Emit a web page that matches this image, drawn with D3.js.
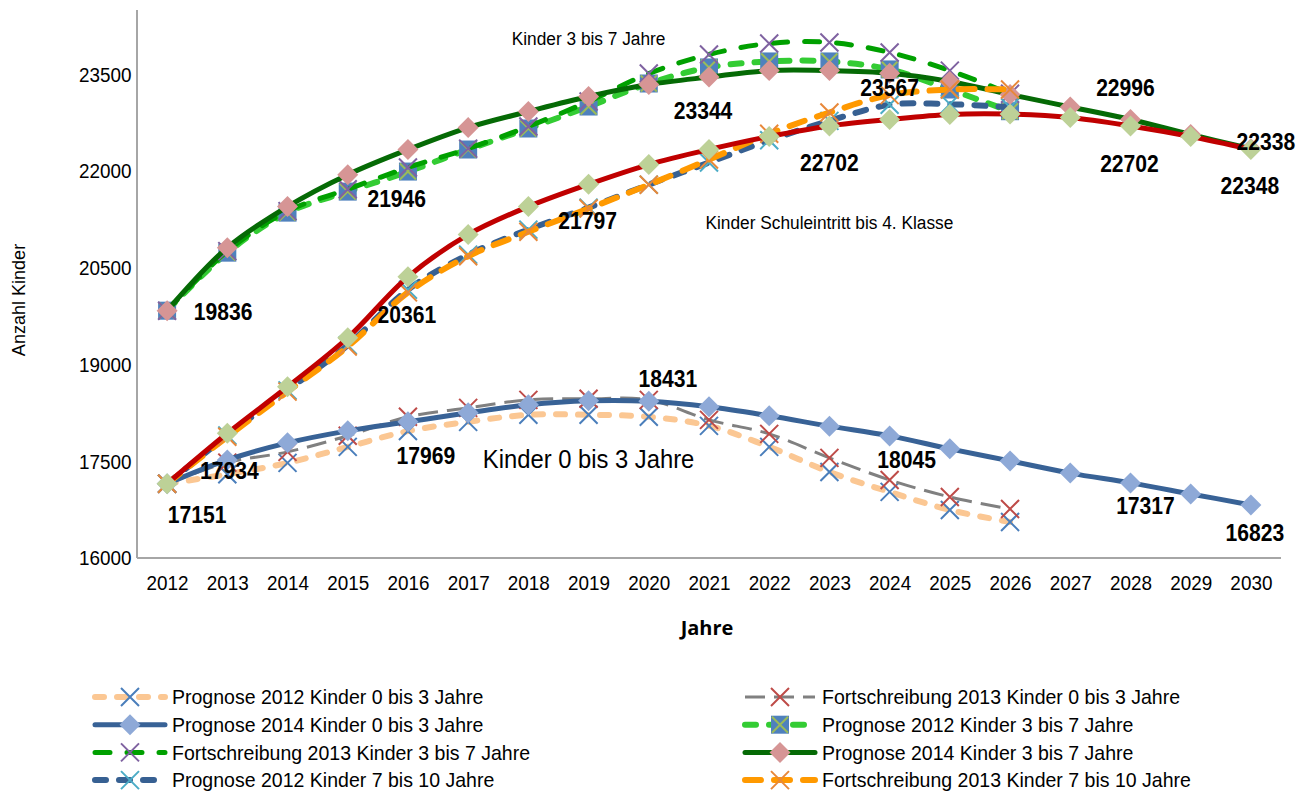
<!DOCTYPE html>
<html>
<head>
<meta charset="utf-8">
<script src="https://cdn.jsdelivr.net/npm/d3@7"></script>
<style>
  body { margin: 0; background: #fff; }
  text { font-family: "Liberation Sans", Arial, sans-serif; }
</style>
</head>
<body>
<div id="root"></div>
<script>
// categories and ticks
const years = [2012, 2013, 2014, 2015, 2016, 2017, 2018, 2019, 2020, 2021, 2022, 2023, 2024, 2025, 2026, 2027, 2028, 2029, 2030];
const yTicks = [16000, 17500, 19000, 20500, 22000, 23500];

// Kinder 0 bis 3 Jahre
const prognose2012_0_3 = [17151, 17300, 17475, 17724, 17969, 18112, 18221, 18221, 18190, 18050, 17724, 17335, 17025, 16745, 16559];
const fortschreibung2013_0_3 = [17151, 17480, 17646, 17895, 18190, 18329, 18453, 18470, 18453, 18143, 17925, 17553, 17211, 16947, 16761];
const prognose2014_0_3 = [17151, 17522, 17786, 17972, 18112, 18252, 18376, 18438, 18431, 18345, 18205, 18045, 17894, 17693, 17506, 17317, 17165, 16994, 16823];

// Kinder 3 bis 7 Jahre
const prognose2012_3_7 = [19836, 20736, 21357, 21683, 21994, 22336, 22662, 23003, 23360, 23609, 23702, 23702, 23578, 23267, 22930];
const fortschreibung2013_3_7 = [19836, 20760, 21380, 21720, 22056, 22350, 22693, 23081, 23515, 23811, 23980, 23997, 23842, 23560, 23200];
const prognose2014_3_7 = [19836, 20814, 21451, 21946, 22336, 22677, 22926, 23159, 23344, 23460, 23560, 23560, 23520, 23392, 23190, 22996, 22802, 22569, 22348];

// Kinder 7 bis 10 Jahre (Schuleintritt bis 4. Klasse)
const prognose2012_7_10 = [17151, 17900, 18600, 19300, 20162, 20705, 21094, 21435, 21792, 22134, 22480, 22780, 23030, 23040, 22990];
const fortschreibung2013_7_10 = [17151, 17880, 18580, 19280, 20120, 20680, 21060, 21420, 21790, 22180, 22580, 22910, 23180, 23267, 23267];
const prognose2014_7_10 = [17151, 17934, 18655, 19416, 20361, 21016, 21451, 21797, 22103, 22336, 22538, 22702, 22802, 22879, 22885, 22833, 22702, 22538, 22338];

// data labels: value shown, year it sits at
const labelValues = [19836, 17934, 17151, 20361, 21946, 21797, 17969, 18431, 23344, 22702, 23567, 18045, 22996, 22702, 22338, 22348, 17317, 16823];
const labelYears  = [2012, 2013, 2012, 2016, 2015, 2019, 2016, 2020, 2021, 2023, 2024, 2024, 2028, 2028, 2030, 2030, 2028, 2030];
const labelShift  = [[56,1],[2,38],[30,31],[-1,38],[49,24],[-1,37],[18,25],[19,-22],[-6,27],[0,37],[0,18],[17,34],[-5,-19],[-1,38],[15,-7],[-1,37],[15,33],[4,28]];

const width = 1313, height = 793;
const plot = { left: 137, right: 1281, top: 10, bottom: 558 };

const svg = d3.select("#root").append("svg")
    .attr("width", width)
    .attr("height", height);

const x = d3.scalePoint()
    .domain(years)
    .range([plot.left, plot.right])
    .padding(0.5);

const y = d3.scaleLinear()
    .domain([16000, 24500])
    .range([plot.bottom, plot.top]);

const series = [
    { name: "Prognose 2012 Kinder 0 bis 3 Jahre", values: prognose2012_0_3, color: "#fbc793", w: 6, dash: "9,13", cap: "round", marker: "x", mColor: "#4a7ebb" },
    { name: "Fortschreibung 2013 Kinder 0 bis 3 Jahre", values: fortschreibung2013_0_3, color: "#808080", w: 3, dash: "20,9", cap: "butt", marker: "x", mColor: "#be4b48" },
    { name: "Prognose 2014 Kinder 0 bis 3 Jahre", values: prognose2014_0_3, color: "#386296", w: 5, dash: null, cap: "round", marker: "diamond", mColor: "#8ea9d7" },
    { name: "Prognose 2012 Kinder 3 bis 7 Jahre", values: prognose2012_3_7, color: "#33cc33", w: 6, dash: "11,13", cap: "round", marker: "square", mColor: "#4f81bd", xColor: "#9bbb59" },
    { name: "Fortschreibung 2013 Kinder 3 bis 7 Jahre", values: fortschreibung2013_3_7, color: "#00a000", w: 5, dash: "15,17", cap: "round", marker: "x", mColor: "#7f62a1" },
    { name: "Prognose 2014 Kinder 3 bis 7 Jahre", values: prognose2014_3_7, color: "#056a05", w: 5, dash: null, cap: "round", marker: "diamond", mColor: "#d69595" },
    { name: "Prognose 2012 Kinder 7 bis 10 Jahre", values: prognose2012_7_10, color: "#376092", w: 6, dash: "11,13", cap: "round", marker: "x", mColor: "#4bacc6" },
    { name: "Fortschreibung 2013 Kinder 7 bis 10 Jahre", values: fortschreibung2013_7_10, color: "#ff9900", w: 6, dash: "16,13", cap: "round", marker: "x", mColor: "#e8883a" },
    { name: "Prognose 2014 Kinder 7 bis 10 Jahre", values: prognose2014_7_10, color: "#c00000", w: 5, dash: null, cap: "round", marker: "diamond", mColor: "#bdd197" }
];

// narrow-looking text: Liberation Sans squeezed horizontally
function narrowText(parent, px, py, str, size, sx, anchor) {
    return parent.append("text")
        .attr("transform", "translate(" + px + "," + py + ") scale(" + sx + ",1)")
        .attr("text-anchor", anchor || "middle")
        .attr("dominant-baseline", "central")
        .attr("font-size", size)
        .text(str);
}

// axes (plain gray lines, no tick marks)
svg.append("line")
    .attr("x1", plot.left).attr("x2", plot.left)
    .attr("y1", plot.top).attr("y2", plot.bottom)
    .attr("stroke", "#a6a6a6").attr("stroke-width", 2);
svg.append("line")
    .attr("x1", plot.left).attr("x2", plot.right)
    .attr("y1", plot.bottom).attr("y2", plot.bottom)
    .attr("stroke", "#a6a6a6").attr("stroke-width", 2);

const yAxis = svg.append("g")
    .attr("transform", "translate(" + plot.left + ",0)")
    .call(d3.axisLeft(y).tickValues(yTicks).tickSize(0).tickPadding(6).tickFormat(d3.format("d")));
yAxis.select(".domain").remove();
yAxis.selectAll("text")
    .attr("font-size", 21).attr("fill", "#000")
    .attr("font-family", null)
    .attr("transform", "scale(0.9,1)");

const xAxis = svg.append("g")
    .attr("transform", "translate(0," + plot.bottom + ")")
    .call(d3.axisBottom(x).tickSize(0).tickPadding(17));
xAxis.select(".domain").remove();
xAxis.selectAll("text")
    .attr("font-size", 21).attr("fill", "#000")
    .attr("font-family", null)
    .attr("transform", "scale(0.9,1)");
svg.selectAll(".tick text").style("font-family", "'Liberation Sans', Arial, sans-serif");
svg.selectAll("g").attr("font-family", null);

// axis titles
svg.append("text")
    .attr("x", 707).attr("y", 635)
    .attr("text-anchor", "middle")
    .style("font-family", "'Open Sans', sans-serif")
    .attr("font-weight", "bold")
    .attr("font-size", 20)
    .text("Jahre");

svg.append("text")
    .attr("transform", "translate(25,300) rotate(-90) scale(0.95,1)")
    .attr("text-anchor", "middle")
    .attr("font-size", 19)
    .text("Anzahl Kinder");

function markerPath(type, r) {
    if (type === "diamond") return `M0,${-r}L${r},0L0,${r}L${-r},0Z`;
    if (type === "x") return `M${-r},${-r}L${r},${r}M${r},${-r}L${-r},${r}`;
    return "";
}

function drawMarker(g, s) {
    if (s.marker === "diamond") {
        g.append("path").attr("d", markerPath("diamond", 10.5)).attr("fill", s.mColor);
    } else if (s.marker === "square") {
        g.append("rect").attr("x", -9).attr("y", -9).attr("width", 18).attr("height", 18).attr("fill", s.mColor);
        g.append("path").attr("d", markerPath("x", 8)).attr("stroke", s.xColor).attr("stroke-width", 2).attr("fill", "none");
    } else {
        g.append("path").attr("d", markerPath("x", 9)).attr("stroke", s.mColor).attr("stroke-width", 2).attr("fill", "none");
    }
}

const line = d3.line()
    .x((d, i) => x(years[i]))
    .y(d => y(d))
    .curve(d3.curveCatmullRom.alpha(0.5));

series.forEach(s => {
    svg.append("path")
        .datum(s.values)
        .attr("fill", "none")
        .attr("stroke", s.color)
        .attr("stroke-width", s.w)
        .attr("stroke-linecap", s.cap)
        .attr("stroke-dasharray", s.dash)
        .attr("d", line);

    svg.append("g").selectAll("g")
        .data(s.values)
        .join("g")
        .attr("transform", (d, i) => "translate(" + x(years[i]) + "," + y(d) + ")")
        .each(function () { drawMarker(d3.select(this), s); });
});

// group captions
narrowText(svg, x(2019), y(24060), "Kinder 3 bis 7 Jahre", 19, 0.91);
narrowText(svg, x(2023), y(21200), "Kinder Schuleintritt bis 4. Klasse", 19, 0.91);
narrowText(svg, x(2019), y(17540), "Kinder 0 bis 3 Jahre", 26, 0.915);

// data labels
const labels = svg.append("g");
labelValues.forEach((v, i) => {
    narrowText(labels, x(labelYears[i]) + labelShift[i][0], y(v) + labelShift[i][1], String(v), 24, 0.88)
        .attr("font-weight", "bold");
});

// legend, two columns (the last entry falls below the picture edge, as in the original)
const legend = svg.append("g");
series.slice(0, 8).forEach((s, i) => {
    const col = i % 2, row = Math.floor(i / 2);
    const x0 = col === 0 ? 95 : 745;
    const ly = 697 + row * 27.7;
    const g = legend.append("g").attr("transform", "translate(" + x0 + "," + ly + ")");
    g.append("line")
        .attr("x1", 0).attr("x2", 70)
        .attr("stroke", s.color)
        .attr("stroke-width", s.w)
        .attr("stroke-linecap", s.cap)
        .attr("stroke-dasharray", s.dash);
    drawMarker(g.append("g").attr("transform", "translate(35,0)"), s);
    narrowText(g, 77, 0, s.name, 21, 0.93, "start");
});
</script>
</body>
</html>
